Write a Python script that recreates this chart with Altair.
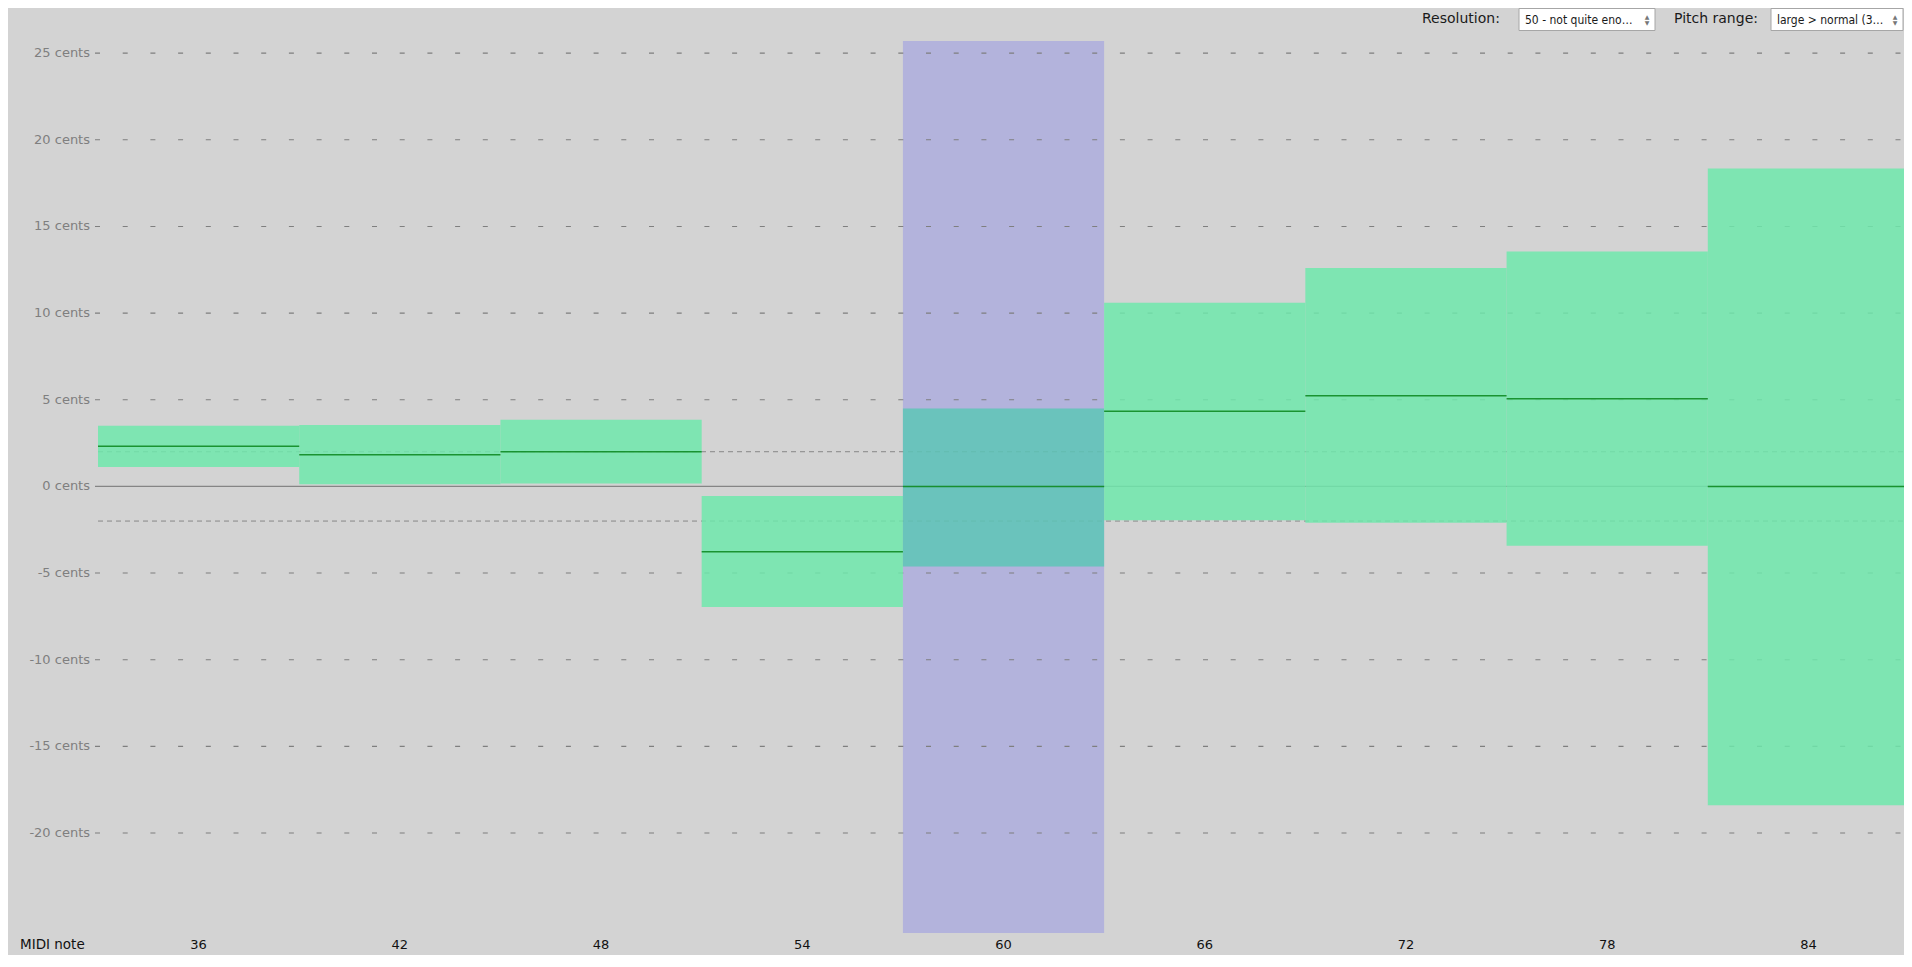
import altair as alt
import pandas as pd

# ---- data ----
notes = [36, 42, 48, 54, 60, 66, 72, 78, 84]
median_cents = [2.31, 1.83, 2.00, -3.77, 0.00, 4.33, 5.23, 5.06, 0.00]
upper_cents = [3.50, 3.54, 3.85, -0.55, 4.49, 10.60, 12.60, 13.55, 18.35]
lower_cents = [1.12, 0.12, 0.16, -6.96, -4.62, -1.96, -2.10, -3.42, -18.40]
selected_note = [60]
grid_cents = [25, 20, 15, 10, 5, -5, -10, -15, -20]
label_cents = [25, 20, 15, 10, 5, 0, -5, -10, -15, -20]
tolerance_cents = [2, -2]
zero_cents = [0]
control_labels = ["Resolution:", "Pitch range:"]
control_values = ["50 - not quite eno\u2026", "large > normal (3\u2026"]

# ---- layout ----
W, H = 1806, 892
HALF = 3
FONT = "DejaVu Sans"

df = pd.DataFrame({
    "note": notes,
    "median": median_cents,
    "upper": upper_cents,
    "lower": lower_cents,
})
df["sel"] = df["note"].isin(selected_note)

xs = alt.Scale(domain=[33, 86.85], nice=False, zero=False)
ys = alt.Scale(domain=[-25.77, 25.7], nice=False, zero=False)

band = alt.Chart(pd.DataFrame({"note": selected_note})).transform_calculate(
    lo=f"datum.note - {HALF}", hi=f"datum.note + {HALF}"
).mark_rect(color="#b3b3dc").encode(
    x=alt.X("lo:Q", scale=xs, axis=None),
    x2="hi:Q",
    y=alt.value(0),
    y2=alt.value(H),
)

grid = alt.Chart(pd.DataFrame({"c": grid_cents})).mark_rule(
    color="#7f7f7f", strokeDash=[5, 22.7], strokeWidth=1.1
).encode(
    y=alt.Y("c:Q", scale=ys, axis=None),
    x=alt.value(-3),
    x2=alt.value(W),
)

zero = alt.Chart(pd.DataFrame({"c": zero_cents})).mark_rule(
    color="#858585", strokeWidth=1.2
).encode(
    y=alt.Y("c:Q", scale=ys, axis=None),
    x=alt.value(-3),
    x2=alt.value(W),
)

tol = alt.Chart(pd.DataFrame({"c": tolerance_cents})).mark_rule(
    color="#878787", strokeDash=[5, 4], strokeWidth=1
).encode(
    y=alt.Y("c:Q", scale=ys, axis=None),
    x=alt.value(0),
    x2=alt.value(W),
)

boxes = alt.Chart(df).transform_calculate(
    lo=f"datum.note - {HALF}", hi=f"datum.note + {HALF}"
).mark_rect(opacity=0.85).encode(
    x=alt.X("lo:Q", scale=xs, axis=None),
    x2="hi:Q",
    y=alt.Y("upper:Q", scale=ys, axis=None),
    y2="lower:Q",
    color=alt.condition("datum.sel", alt.value("#5dc5b6"), alt.value("#6ee8ac")),
)

medians = alt.Chart(df).transform_calculate(
    lo=f"datum.note - {HALF}", hi=f"datum.note + {HALF}"
).mark_rule(color="#0f8a22", strokeWidth=1.5, opacity=0.9).encode(
    x=alt.X("lo:Q", scale=xs, axis=None),
    x2="hi:Q",
    y=alt.Y("median:Q", scale=ys, axis=None),
)

# axis labels as text
y_labels = alt.Chart(pd.DataFrame({"c": label_cents})).transform_calculate(
    lab="datum.c + ' cents'"
).mark_text(
    align="right", baseline="middle", font=FONT, fontSize=13, color="#7f7f7f"
).encode(
    y=alt.Y("c:Q", scale=ys, axis=None),
    x=alt.value(-8),
    text="lab:N",
)

x_labels = alt.Chart(pd.DataFrame({"note": notes})).mark_text(
    align="center", baseline="middle", font=FONT, fontSize=13, color="#111111"
).encode(
    x=alt.X("note:Q", scale=xs, axis=None),
    y=alt.value(H + 12),
    text=alt.Text("note:Q", format="d"),
)

midi_label = alt.Chart(pd.DataFrame({"t": ["MIDI note"]})).mark_text(
    align="left", baseline="middle", font=FONT, fontSize=13.5, color="#111111"
).encode(text="t:N", x=alt.value(-78), y=alt.value(H + 12))

# ---- top-right controls (drawn as annotations) ----
ctrl_df = pd.DataFrame({
    "label": control_labels,
    "value": control_values,
    "lx": [1324, 1576],
    "bx": [1421, 1673],
    "bx2": [1557, 1805],
})

ctrl_text = alt.Chart(ctrl_df).mark_text(
    align="left", baseline="middle", font=FONT, fontSize=14, color="#1a1a1a"
).encode(text="label:N", x=alt.X("lx:Q", scale=None), y=alt.value(-22))

ctrl_box = alt.Chart(ctrl_df).mark_rect(
    fill="white", stroke="#a6a6a6", strokeWidth=1
).encode(
    x=alt.X("bx:Q", scale=None), x2="bx2:Q",
    y=alt.value(-32.5), y2=alt.value(-10.5),
)

ctrl_val = alt.Chart(ctrl_df).transform_calculate(tx="datum.bx + 6").mark_text(
    align="left", baseline="middle", font="DejaVu Sans Condensed", fontSize=12,
    color="#1a1a1a"
).encode(text="value:N", x=alt.X("tx:Q", scale=None), y=alt.value(-21.5))

ctrl_up = alt.Chart(ctrl_df).transform_calculate(tx="datum.bx2 - 8").mark_text(
    align="center", baseline="middle", font=FONT, fontSize=6, color="#777777"
).encode(text=alt.value("\u25b2"), x=alt.X("tx:Q", scale=None), y=alt.value(-24.5))

ctrl_dn = alt.Chart(ctrl_df).transform_calculate(tx="datum.bx2 - 8").mark_text(
    align="center", baseline="middle", font=FONT, fontSize=6, color="#777777"
).encode(text=alt.value("\u25bc"), x=alt.X("tx:Q", scale=None), y=alt.value(-18.5))

chart = alt.layer(
    band, grid, tol, zero, boxes, medians, y_labels, x_labels, midi_label,
    ctrl_box, ctrl_text, ctrl_val, ctrl_up, ctrl_dn,
).properties(
    width=W, height=H,
    autosize=alt.AutoSizeParams(type="none"),
    padding={"left": 90, "top": 33, "right": 0, "bottom": 22},
    background="#d3d3d3",
).configure_view(stroke=None)

chart.save("out.html", embed_options={"renderer": "svg", "actions": False})
